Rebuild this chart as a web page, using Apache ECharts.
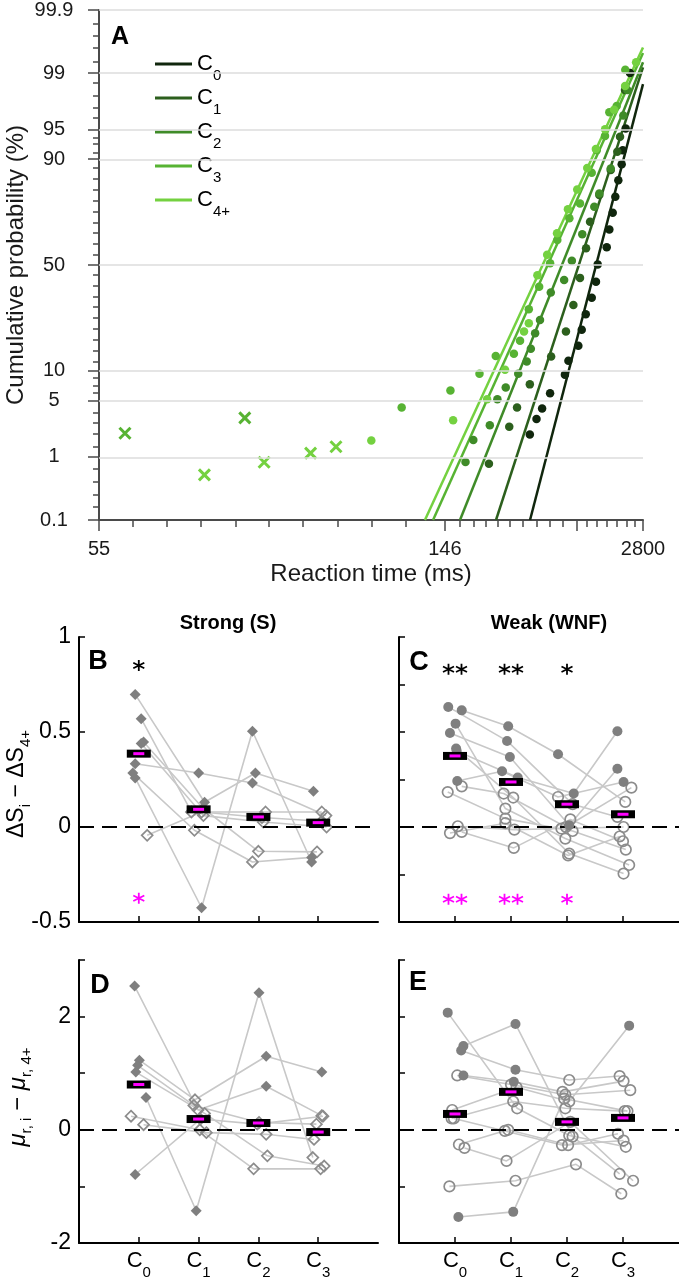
<!DOCTYPE html>
<html><head><meta charset="utf-8">
<script src="https://cdn.jsdelivr.net/npm/echarts@6/dist/echarts.min.js"></script>
<style>html,body{margin:0;padding:0;background:#fff}#c{width:679px;height:1280px}</style>
</head><body><div id="c"></div>
<script>
// ================= DATA =================
// Panel A : reciprobit plot (reaction time in ms, cumulative probability in %)
const condNames = ['C0', 'C1', 'C2', 'C3', 'C4+'];
const fitStartRT = [246.4, 193.3, 157.4, 138.2, 133.3];   // RT where fit crosses 0.1 %
const fitEndRT = [2800, 2800, 2800, 2800, 2800];
const fitEndPct = [98.58, 99.17, 99.30, 99.49, 99.58];    // % of fit at 2800 ms
const dotsC0 = [[246,2.0],[260,3.1],[273,4.1],[294,6.0],[343,9.2],[357,12.3],[404,16.4],[423,21.6],[448,27.5],[491,34.6],[527,42.0],[543,50.3],[647,58.5],[685,66.7],[741,73.7],[791,79.6],[858,84.8],[948,88.9],[979,91.8],[1082,95.1],[1277,99.0]];
const dotsC1 = [[185,0.8],[211,2.5],[223,4.2],[246,7.4],[297,13.4],[347,21.0],[379,31.4],[413,43.8],[450,58.0],[478,70.0],[559,80.2],[707,87.5],[834,91.5],[901,94.0],[1056,98.3]];
const dotsC2 = [[162,0.85],[169,1.7],[186,2.6],[195,5.2],[206,6.9],[225,9.4],[240,12.1],[248,15.5],[257,20.4],[268,25.3],[296,36.9],[340,42.8],[372,52],[426,64.5],[512,76.0],[559,80.7],[707,87.9],[998,96.5],[1148,98.3]];
const dotsC3 = [[121,4.2],[150,6.4],[175,9.4],[193,13.5],[218,14.1],[228,17.9],[244,29.6],[266,39.6],[294,50.8],[316,61.9],[361,71.4],[413,77.2],[491,86.8],[534,91.8],[624,94.1],[685,96.8],[820,97.3],[1067,99.1]];
const dotsC4 = [[108,1.67],[152,3.0],[183,5.2],[205,10.2],[235,21.0],[244,24.0],[262,45],[286,55],[315,65],[355,75],[398,82],[458,88],[526,92],[625,95],[767,97],[1060,98.5],[1715,99.3]];
const earlyC3 = [[57.7,2.07],[74.6,3.2]];
const earlyC4 = [[67.9,0.55],[78.3,0.84],[88.9,1.13],[96.0,1.38]];
const xTickLabels = [55, 146, 2800];
const xMajorTicks = [55, 146, 397, 2800];
const xMinorTicks = [58.6,62.7,67.4,72.9,79.3,87.0,96.4,108,123,157,169,181,195,212,233,261,294,336,456,536,651,827,1135,1616];
const yTickLabels = [0.1, 1, 5, 10, 50, 90, 95, 99, 99.9];
const yMinorTicks = [0.17,0.27,0.43,0.68,1.38,2.04,2.8,3.7,6.1,7.1,8.6,12.0,14.9,18.2,21.9,26.1,30.6,34.9,40.0,45.2,
  54.8,60.0,65.1,69.4,73.9,78.1,81.8,85.1,88.0,91.4,92.9,93.9,96.3,97.2,97.96,98.62,99.32,99.57,99.73,99.83];

// Panels B-E : per-subject differences, categories C0..C3
const catSubs = ['0', '1', '2', '3'];
// B : Strong, Delta S
const valsB = [
  [0.698, 0.13, 0.284, 0.188],
  [0.570, 0.079, 0.079, 0.079],
  [0.333, 0.284, 0.232, 0.06],
  [0.447, 0.10, -0.128, -0.131],
  [0.44, 0.06, 0.026, 0.0],
  [0.284, -0.017, -0.184, -0.16],
  [0.258, -0.425, 0.504, -0.184],
  [-0.044, 0.079, 0.05, 0.03]];
const fillB = ['FFFF', 'FOOO', 'FFFO', 'FFOO', 'FOOO', 'FOOF', 'FFFF', 'OOOO'];
const jitB = [
  [-0.06, 0.10, -0.05, -0.08], [0.04, -0.12, 0.12, 0.06], [-0.06, 0.0, -0.10, 0.13], [0.08, 0.07, 0.0, -0.02],
  [0.04, 0.08, 0.08, 0.14], [-0.10, -0.07, -0.10, -0.11], [-0.06, 0.05, -0.10, -0.11], [0.14, 0.05, 0.06, 0.06]];
const meanB = [0.386, 0.093, 0.053, 0.023];
const sigB = ['*', '', '', ''];
const sigBm = ['*', '', '', ''];
// C : Weak, Delta S
const valsC = [
  [0.632, 0.453, 0.12, 0.053],
  [0.614, 0.53, 0.383, 0.132],
  [0.544, 0.097, -0.061, -0.2],
  [0.495, 0.368, 0.009, 0.307],
  [0.413, 0.155, -0.14, -0.245],
  [0.40, 0.26, 0.176, 0.504],
  [0.242, 0.293, 0.158, 0.237],
  [0.214, 0.176, 0.0, 0.207],
  [0.184, 0.044, -0.021, -0.119],
  [0.004, -0.014, -0.008, 0.0],
  [-0.026, -0.11, 0.04, -0.075],
  [-0.032, 0.02, -0.15, -0.05]];
const fillC = ['FFOO', 'FFFO', 'FOOO', 'FFFF', 'FOOO', 'FFFF', 'FFOF', 'OOOO', 'OOOO', 'OOOO', 'OOOO', 'OOOO'];
const jitC = [
  [-0.12, -0.07, 0.10, -0.10], [0.12, -0.05, -0.16, 0.04], [0.01, -0.10, -0.03, 0.11], [-0.09, -0.02, 0.04, -0.10],
  [0.02, 0.04, 0.04, 0.01], [0.03, 0.12, 0.12, -0.10], [0.04, -0.16, -0.16, 0.01], [0.12, -0.13, -0.02, 0.15],
  [-0.13, -0.10, 0.10, 0.05], [0.05, 0.06, -0.10, 0.01], [0.12, 0.05, 0.06, 0.0], [-0.09, -0.10, 0.02, -0.06]];
const meanC = [0.374, 0.237, 0.12, 0.067];
const sigC = ['**', '**', '*', ''];
const sigCm = ['**', '**', '*', ''];
// D : Strong, mu_r
const valsD = [
  [2.54, 0.35, 0.77, 0.25],
  [1.23, 0.53, 1.30, 1.02],
  [1.14, 0.43, 0.13, 0.10],
  [1.02, 0.29, -0.46, -0.64],
  [0.57, -1.43, 2.42, -0.49],
  [0.24, 0.0, -0.69, -0.69],
  [0.09, -0.05, -0.08, -0.17],
  [-0.79, 0.19, 0.10, 0.24]];
const fillD = ['FOFO', 'FOFF', 'FOOO', 'FOOO', 'FFFO', 'OOOO', 'OOOO', 'FOOO'];
const jitD = [
  [-0.07, -0.01, 0.13, 0.06], [0.01, -0.06, 0.13, 0.06], [-0.02, -0.08, 0.01, -0.03], [-0.05, 0.10, 0.15, 0.10],
  [0.12, -0.04, 0.01, -0.09], [-0.13, 0.02, -0.08, 0.04], [0.08, 0.13, 0.13, -0.07], [-0.06, 0.03, -0.02, 0.08]];
const meanD = [0.80, 0.19, 0.12, -0.04];
// E : Weak, mu_r
const valsE = [
  [2.07, 0.38, -0.10, -0.30],
  [1.48, 1.87, -0.12, -0.78],
  [1.40, 1.06, 0.88, 0.95],
  [0.96, 0.85, 0.67, 0.86],
  [0.96, 0.80, 0.62, 0.70],
  [0.35, 0.75, 0.50, 1.84],
  [0.20, 0.50, 0.38, 0.33],
  [0.20, -0.02, -0.27, -0.19],
  [-0.26, 0.0, -0.27, -0.07],
  [-0.32, -0.55, 0.14, -0.90],
  [-1.0, -0.90, -0.61, -1.13],
  [-1.54, -1.45, 0.55, 0.33]];
const fillE = ['FOOO', 'FFOO', 'FFOO', 'FFOO', 'OOOO', 'OOOF', 'OOOO', 'OOOO', 'OOOO', 'OOOO', 'OOOO', 'FFOO'];
const jitE = [
  [-0.13, 0.11, 0.04, 0.05], [0.15, 0.08, 0.10, -0.06], [0.11, 0.08, 0.04, -0.06], [0.15, 0.05, -0.08, 0.01],
  [0.04, 0.00, -0.03, 0.13], [-0.05, 0.10, 0.04, 0.11], [-0.06, 0.04, -0.03, 0.03], [-0.02, -0.11, -0.09, 0.01],
  [0.07, -0.05, 0.02, -0.09], [0.17, -0.08, 0.06, 0.18], [-0.10, 0.08, 0.16, -0.03], [0.06, 0.04, -0.05, 0.08]];
const meanE = [0.28, 0.67, 0.14, 0.21];

// ================= HELPERS =================
const FONT = "'Liberation Sans', Arial, Helvetica, sans-serif";
function probit(p) {
  const a=[-3.969683028665376e+01,2.209460984245205e+02,-2.759285104469687e+02,1.383577518672690e+02,-3.066479806614716e+01,2.506628277459239e+00];
  const b=[-5.447609879822406e+01,1.615858368580409e+02,-1.556989798598866e+02,6.680131188771972e+01,-1.328068155288572e+01];
  const c=[-7.784894002430293e-03,-3.223964580411365e-01,-2.400758277161838e+00,-2.549732539343734e+00,4.374664141464968e+00,2.938163982698783e+00];
  const d=[7.784695709041462e-03,3.224671290700398e-01,2.445134137142996e+00,3.754408661907416e+00];
  const pl=0.02425; let q, r;
  if (p < pl) { q=Math.sqrt(-2*Math.log(p)); return (((((c[0]*q+c[1])*q+c[2])*q+c[3])*q+c[4])*q+c[5])/((((d[0]*q+d[1])*q+d[2])*q+d[3])*q+1); }
  if (p <= 1-pl) { q=p-0.5; r=q*q; return (((((a[0]*r+a[1])*r+a[2])*r+a[3])*r+a[4])*r+a[5])*q/(((((b[0]*r+b[1])*r+b[2])*r+b[3])*r+b[4])*r+1); }
  q=Math.sqrt(-2*Math.log(1-p)); return -(((((c[0]*q+c[1])*q+c[2])*q+c[3])*q+c[4])*q+c[5])/((((d[0]*q+d[1])*q+d[2])*q+d[3])*q+1);
}
const tx = rt => -1000 / rt;          // reciprocal time axis
const ty = pct => probit(pct / 100);  // probit axis
const condColors = ['#10260d', '#2c5f1d', '#3f8b28', '#57b333', '#74d140'];
const dotSets = [dotsC0, dotsC1, dotsC2, dotsC3, dotsC4];
const GREY_LINE = '#c8c8c8', FILL_GREY = '#7f7f7f', OPEN_GREY = '#8c8c8c';
const DIAMOND = 'diamond', CIRCLE = 'circle';
const STAR = 'path://M0,-10L0,10M-8.66,-5L8.66,5M-8.66,5L8.66,-5';
const XMARK = 'path://M-5,-5L5,5M-5,5L5,-5';

const series = [];
// gridlines panel A
series.push({
  type: 'line', xAxisIndex: 0, yAxisIndex: 0, data: [[tx(100), ty(50)]], symbol: 'none',
  lineStyle: { opacity: 0 }, silent: true, z: 1,
  markLine: { silent: true, symbol: ['none', 'none'], label: { show: false },
    lineStyle: { color: '#dcdcdc', width: 1.5, type: 'solid' },
    data: yTickLabels.filter(v => v > 0.1).map(v => ({ yAxis: ty(v) })) }
});
condNames.forEach((name, i) => {
  series.push({
    name: name, type: 'line', xAxisIndex: 0, yAxisIndex: 0, color: condColors[i],
    data: [[tx(fitStartRT[i]), ty(0.1)], [tx(fitEndRT[i]), ty(fitEndPct[i])]],
    symbol: 'none', lineStyle: { color: condColors[i], width: 2.5 }, z: 3
  });
  series.push({
    name: name + ' data', type: 'scatter', xAxisIndex: 0, yAxisIndex: 0,
    data: dotSets[i].map(d => [tx(d[0]), ty(d[1])]), symbolSize: 8.5,
    itemStyle: { color: condColors[i], opacity: 1 }, z: 4
  });
});
[[earlyC3, condColors[3]], [earlyC4, condColors[4]]].forEach(([arr, col]) => {
  series.push({
    type: 'scatter', xAxisIndex: 0, yAxisIndex: 0, data: arr.map(d => [tx(d[0]), ty(d[1])]),
    symbol: XMARK, symbolSize: 11, itemStyle: { color: 'transparent', borderColor: col, borderWidth: 3, opacity: 1 }, z: 4
  });
});

function panel(ai, vals, fills, jits, means, shape, sig, sigm, starY, starMY) {
  vals.forEach((row, s) => {
    series.push({ type: 'line', xAxisIndex: ai, yAxisIndex: ai, data: row.map((v, k) => [k + 1 + jits[s][k], v]),
      symbol: 'none', lineStyle: { color: GREY_LINE, width: 1.6 }, silent: true, z: 2 });
  });
  const filled = [], open = [];
  vals.forEach((row, s) => row.forEach((v, k) => {
    (fills[s][k] === 'F' ? filled : open).push([k + 1 + jits[s][k], v]);
  }));
  series.push({ type: 'scatter', xAxisIndex: ai, yAxisIndex: ai, data: open, symbol: shape, symbolSize: shape === DIAMOND ? 11 : 10.5,
    itemStyle: { color: 'rgba(255,255,255,0)', borderColor: OPEN_GREY, borderWidth: 1.7, opacity: 1 }, z: 4 });
  series.push({ type: 'scatter', xAxisIndex: ai, yAxisIndex: ai, data: filled, symbol: shape, symbolSize: shape === DIAMOND ? 11 : 10,
    itemStyle: { color: FILL_GREY, opacity: 1 }, z: 5 });
  series.push({ type: 'scatter', xAxisIndex: ai, yAxisIndex: ai, data: means.map((m, k) => [k + 1, m]),
    symbol: 'rect', symbolSize: [24, 8], itemStyle: { color: '#000', opacity: 1 }, z: 6,
    markLine: { silent: true, symbol: ['none', 'none'], label: { show: false },
      lineStyle: { color: '#000', width: 2.2, type: [15, 8], opacity: 1 }, data: [{ yAxis: 0 }] } });
  series.push({ type: 'scatter', xAxisIndex: ai, yAxisIndex: ai, data: means.map((m, k) => [k + 1, m]),
    symbol: 'rect', symbolSize: [11, 3], itemStyle: { color: '#ff00ff', opacity: 1 }, z: 7 });
  if (sig) {
    [[sig, starY, '#000'], [sigm, starMY, '#ff00ff']].forEach(([arr, yy, col]) => {
      const data = [];
      arr.forEach((str, k) => {
        const n = str.length;
        for (let j = 0; j < n; j++) data.push({ value: [k + 1, yy], symbolOffset: [(j - (n - 1) / 2) * 13, 0] });
      });
      series.push({ type: 'scatter', xAxisIndex: ai, yAxisIndex: ai, data: data, symbol: STAR, symbolSize: 11,
        itemStyle: { color: 'transparent', borderColor: col, borderWidth: 1.8, opacity: 1 }, z: 8 });
    });
  }
}
panel(2, valsB, fillB, jitB, meanB, DIAMOND, sigB, sigBm, 0.85, -0.375);
panel(3, valsC, fillC, jitC, meanC, CIRCLE, sigC, sigCm, 0.83, -0.38);
panel(4, valsD, fillD, jitD, meanD, DIAMOND, null);
panel(5, valsE, fillE, jitE, meanE, CIRCLE, null);

// ================= AXES =================
const AX_A = '#4a4a4a';
const subRich = {
  c: { fontSize: 22, fontFamily: FONT, color: '#000', verticalAlign: 'top', lineHeight: 22 },
  s: { fontSize: 15, fontFamily: FONT, color: '#000', verticalAlign: 'top', lineHeight: 15, padding: [15, 0, 0, 0] }
};
function nearestLabel(v) {
  let best = yTickLabels[0];
  yTickLabels.forEach(l => { if (Math.abs(ty(l) - v) < Math.abs(ty(best) - v)) best = l; });
  return String(best);
}
function catX(gi, labels) {
  return { gridIndex: gi, type: 'value', min: 0, max: 5, position: 'bottom',
    axisLine: { onZero: false, lineStyle: { color: '#000', width: 2 } },
    axisTick: { show: true, inside: true, length: 6, customValues: [1, 2, 3, 4], lineStyle: { color: '#000', width: 1.5 } },
    axisLabel: labels ? { show: true, customValues: [1, 2, 3, 4], margin: 7,
      formatter: v => '{c|C}{s|' + catSubs[Math.round(v) - 1] + '}', rich: subRich } : { show: false },
    splitLine: { show: false } };
}
function valY(gi, min, max, interval, labelVals) {
  return { gridIndex: gi, type: 'value', min: min, max: max, interval: interval, position: 'left',
    axisLine: { show: true, onZero: false, lineStyle: { color: '#000', width: 2 } },
    axisTick: { show: true, inside: true, length: 6, lineStyle: { color: '#000', width: 1.5 } },
    axisLabel: labelVals === false ? { show: false } :
      Object.assign({ show: true, fontSize: 23, fontFamily: FONT, color: '#000', margin: 8 }, labelVals ? { customValues: labelVals } : {}),
    splitLine: { show: false } };
}

const option = {
  animation: false,
  backgroundColor: '#fff',
  textStyle: { fontFamily: FONT },
  grid: [
    { left: 99, top: 10, width: 544, height: 510 },
    { left: 79, top: 637, width: 299, height: 285 },
    { left: 399, top: 637, width: 300, height: 285 },
    { left: 79, top: 960, width: 299, height: 286 },
    { left: 399, top: 960, width: 300, height: 286 }
  ],
  legend: {
    data: condNames, orient: 'vertical', left: 150, top: 48, itemWidth: 37, itemHeight: 3, itemGap: 4,
    icon: 'rect', selectedMode: false,
    formatter: n => '{c|C}{s|' + n.slice(1) + '}',
    textStyle: { rich: subRich }
  },
  xAxis: [
    { gridIndex: 0, type: 'value', min: tx(55), max: tx(2800), position: 'bottom',
      axisLine: { onZero: false, lineStyle: { color: AX_A, width: 2 } },
      axisTick: { show: true, inside: false, length: 11, customValues: xMajorTicks.map(tx), lineStyle: { color: AX_A, width: 1.5 } },
      axisLabel: { customValues: xTickLabels.map(tx), formatter: v => String(Math.round(-1000 / v)), fontSize: 20, color: '#1a1a1a', margin: 19, fontFamily: FONT },
      splitLine: { show: false } },
    { gridIndex: 0, type: 'value', min: tx(55), max: tx(2800), position: 'bottom', offset: 0,
      axisLine: { show: false, onZero: false },
      axisTick: { show: true, inside: false, length: 7, customValues: xMinorTicks.map(tx), lineStyle: { color: AX_A, width: 1.5 } },
      axisLabel: { show: false }, splitLine: { show: false } },
    catX(1, false), catX(2, false), catX(3, true), catX(4, true)
  ],
  yAxis: [
    { gridIndex: 0, type: 'value', min: ty(0.1), max: ty(99.9), position: 'left',
      axisLine: { show: true, onZero: false, lineStyle: { color: AX_A, width: 2 } },
      axisTick: { show: true, inside: false, length: 11, customValues: yTickLabels.map(ty), lineStyle: { color: AX_A, width: 1.5 } },
      axisLabel: { customValues: yTickLabels.map(ty), formatter: nearestLabel, fontSize: 20, color: '#1a1a1a', align: 'center', margin: 45, fontFamily: FONT },
      splitLine: { show: false } },
    { gridIndex: 0, type: 'value', min: ty(0.1), max: ty(99.9), position: 'left', offset: 0,
      axisLine: { show: false, onZero: false },
      axisTick: { show: true, inside: false, length: 6, customValues: yMinorTicks.map(ty), lineStyle: { color: AX_A, width: 1.5 } },
      axisLabel: { show: false }, splitLine: { show: false } },
    valY(1, -0.5, 1, 0.5, null),
    valY(2, -0.5, 1, 0.25, false),
    valY(3, -2, 3, 1, [-2, 0, 2]),
    valY(4, -2, 3, 1, false)
  ],
  series: series,
  graphic: [
    { type: 'text', x: 120, y: 37, style: { text: 'A', font: 'bold 25px ' + FONT, fill: '#000', align: 'center', verticalAlign: 'middle', textAlign: 'center', textVerticalAlign: 'middle' } },
    { type: 'text', x: 98, y: 662, style: { text: 'B', font: 'bold 27px ' + FONT, fill: '#000', align: 'center', verticalAlign: 'middle', textAlign: 'center', textVerticalAlign: 'middle' } },
    { type: 'text', x: 419, y: 663, style: { text: 'C', font: 'bold 27px ' + FONT, fill: '#000', align: 'center', verticalAlign: 'middle', textAlign: 'center', textVerticalAlign: 'middle' } },
    { type: 'text', x: 100, y: 986, style: { text: 'D', font: 'bold 27px ' + FONT, fill: '#000', align: 'center', verticalAlign: 'middle', textAlign: 'center', textVerticalAlign: 'middle' } },
    { type: 'text', x: 418, y: 983, style: { text: 'E', font: 'bold 27px ' + FONT, fill: '#000', align: 'center', verticalAlign: 'middle', textAlign: 'center', textVerticalAlign: 'middle' } },
    { type: 'text', x: 228, y: 623, style: { text: 'Strong (S)', font: 'bold 20px ' + FONT, fill: '#000', align: 'center', verticalAlign: 'middle', textAlign: 'center', textVerticalAlign: 'middle' } },
    { type: 'text', x: 549, y: 623, style: { text: 'Weak (WNF)', font: 'bold 20px ' + FONT, fill: '#000', align: 'center', verticalAlign: 'middle', textAlign: 'center', textVerticalAlign: 'middle' } },
    { type: 'text', x: 371, y: 574, style: { text: 'Reaction time (ms)', font: '24px ' + FONT, fill: '#1a1a1a', align: 'center', verticalAlign: 'middle', textAlign: 'center', textVerticalAlign: 'middle' } },
    { type: 'text', x: 16, y: 265, rotation: Math.PI / 2, style: { text: 'Cumulative probability (%)', font: '24px ' + FONT, fill: '#1a1a1a', align: 'center', verticalAlign: 'middle', textAlign: 'center', textVerticalAlign: 'middle' } },
    { type: 'text', x: 17, y: 784, rotation: Math.PI / 2, style: {
        text: '{m|ΔS}{s|i}{m| − ΔS}{s|4+}', align: 'center', verticalAlign: 'middle', textAlign: 'center', textVerticalAlign: 'middle',
        rich: { m: { fontSize: 23, fontFamily: FONT, fill: '#000', color: '#000', verticalAlign: 'top', lineHeight: 23 },
                s: { fontSize: 15, fontFamily: FONT, fill: '#000', color: '#000', verticalAlign: 'top', lineHeight: 15, padding: [13, 0, 0, 0] } } } },
    { type: 'text', x: 18, y: 1097, rotation: Math.PI / 2, style: {
        text: '{m|μ}{s|r, i}{m| − }{m|μ}{s|r, 4+}', align: 'center', verticalAlign: 'middle', textAlign: 'center', textVerticalAlign: 'middle',
        rich: { m: { fontSize: 24, fontFamily: FONT, fontStyle: 'italic', fill: '#000', color: '#000', verticalAlign: 'top', lineHeight: 24 },
                s: { fontSize: 15, fontFamily: FONT, fill: '#000', color: '#000', verticalAlign: 'top', lineHeight: 15, padding: [13, 0, 0, 0] } } } }
  ]
};
const chart = echarts.init(document.getElementById('c'), null, { renderer: 'canvas' });
chart.setOption(option);
</script></body></html>
